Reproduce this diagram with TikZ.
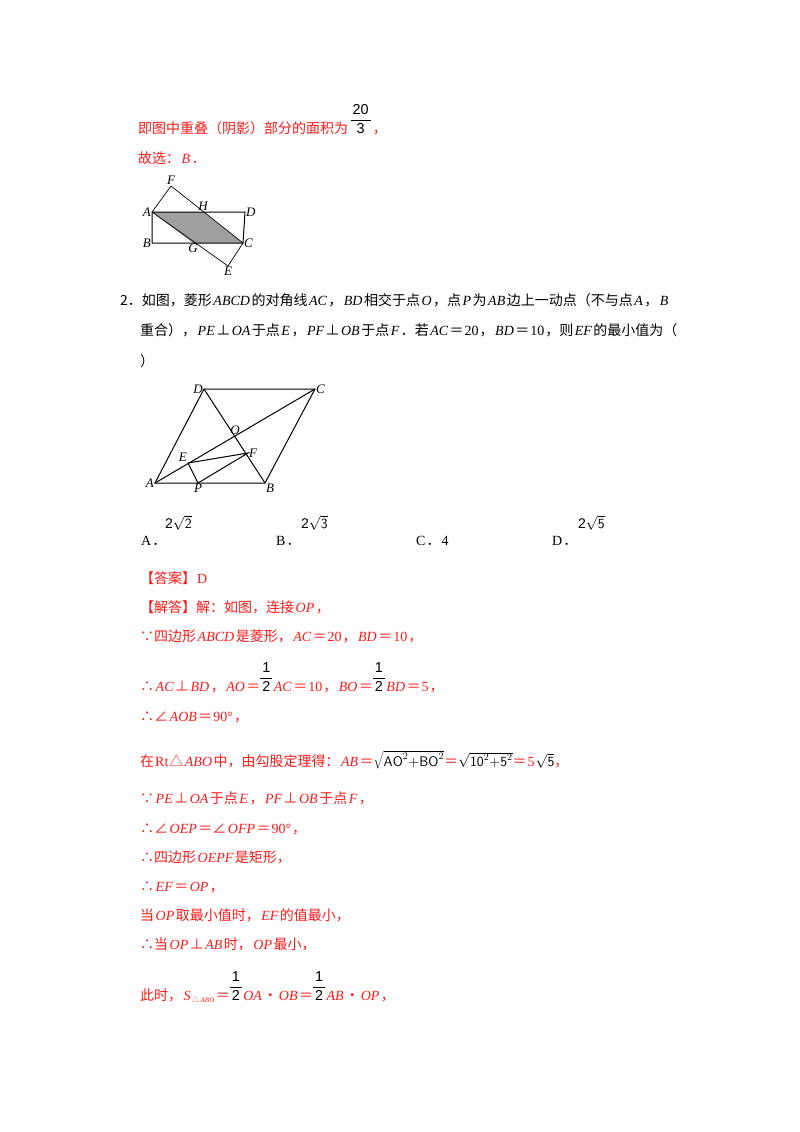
\documentclass[tikz,border=0pt]{standalone}
\usepackage{fontspec}
\setmainfont{Noto Sans CJK SC}
\newfontfamily\latf{Liberation Serif}
\newfontfamily\sansf{Liberation Sans}
\newcommand\I[1]{\hspace{1.5pt}{\latf\itshape #1}\hspace{1.5pt}}
\newcommand\R[1]{\hspace{1pt}{\latf #1}\hspace{1pt}}
\newcommand\fr[2]{{\color{black}\renewcommand\arraystretch{1.1}\setlength\arrayrulewidth{0.7pt}\begin{tabular}[b]{@{\hspace{2pt}}c@{\hspace{2pt}}}\sansf\Large #1\\\hline\sansf\Large #2\end{tabular}}}
\begin{document}
\begin{tikzpicture}[x=1pt,y=-1pt,
  ln/.style={anchor=base west,inner sep=0pt,font=\fontsize{14}{16}\selectfont},
  rd/.style={ln,text=red!90!white},
  bk/.style={ln,text=black},
  lab/.style={inner sep=1pt,font=\fontsize{13}{15}\selectfont\latf\itshape},
  fig/.style={line width=1pt}]
\useasboundingbox (0,0) rectangle (800,1132);
% top text
\node[rd] (l1) at (138,133) {即图中重叠（阴影）部分的面积为\,\fr{20}{3}\,，};
\node[rd] (l2) at (138,163) {故选：\I{B}．};
% figure 1
\coordinate (A1) at (152,212); \coordinate (D1) at (245,212);
\coordinate (B1) at (152,243); \coordinate (C1) at (243,243);
\coordinate (F1) at (171,186); \coordinate (H1) at (203,212);
\coordinate (G1) at (193,243); \coordinate (E1) at (228,266);
\fill[gray!75] (A1) -- (H1) -- (C1) -- (G1) -- cycle;
\draw[fig] (A1) -- (D1) -- (C1) -- (B1) -- cycle;
\draw[fig,line width=0.7pt] (A1) -- (F1) -- (C1) -- (E1) -- (A1);
\node[lab,anchor=east] at (A1) {A};
\node[lab,anchor=west] at (D1) {D};
\node[lab,anchor=east] at (B1) {B};
\node[lab,anchor=west] at (C1) {C};
\node[lab,anchor=south] at (F1) {F};
\node[lab,anchor=south] at (H1) {H};
\node[lab,anchor=north] at (G1) {G};
\node[lab,anchor=north] at (E1) {E};
% question
\node[bk] (q1) at (120,305) {2．如图，菱形\I{ABCD}的对角线\I{AC}，\I{BD}相交于点\I{O}，点\I{P}为\I{AB}边上一动点（不与点\I{A}，\I{B}};
\node[bk] (q2) at (140,335) {重合），\I{PE}⊥\I{OA}于点\I{E}，\I{PF}⊥\I{OB}于点\I{F}．若\I{AC}＝\R{20}，\I{BD}＝\R{10}，则\I{EF}的最小值为（};
\node[bk] (q3) at (140,366) {）};
% figure 2
\coordinate (A2) at (155,483); \coordinate (B2) at (265,483);
\coordinate (C2) at (315,389); \coordinate (D2) at (204,389);
\coordinate (O2) at (235,436); \coordinate (E2) at (188,463);
\coordinate (F2) at (248,453); \coordinate (P2) at (198,483);
\draw[fig] (A2) -- (B2) -- (C2) -- (D2) -- cycle;
\draw[fig] (A2) -- (C2) (D2) -- (B2);
\draw[fig] (E2) -- (P2) -- (F2) -- (E2);
\node[lab,anchor=east] at (A2) {A};
\node[lab,anchor=north west] at (B2) {B};
\node[lab,anchor=west] at (C2) {C};
\node[lab,anchor=east] at (D2) {D};
\node[lab,anchor=south] at (O2) {O};
\node[lab,anchor=south east] at (E2) {E};
\node[lab,anchor=west] at (F2) {F};
\node[lab,anchor=north] at (P2) {P};
% options
\node[bk] (oa) at (140,545) {\R{A}．};
\node[bk,font=\fontsize{14}{16}\selectfont\sansf] (oa2) at (165,528) {2$\sqrt{\mathsf{2}}$};
\node[bk] (ob) at (275,545) {\R{B}．};
\node[bk,font=\fontsize{14}{16}\selectfont\sansf] (ob2) at (301,528) {2$\sqrt{\mathsf{3}}$};
\node[bk] (oc) at (415,545) {\R{C}．\R{4}};
\node[bk] (od) at (551,545) {\R{D}．};
\node[bk,font=\fontsize{14}{16}\selectfont\sansf] (od2) at (578,528) {2$\sqrt{\mathsf{5}}$};
% answer
\node[rd] (a1) at (140,583) {【答案】\R{D}};
\node[rd] (a2) at (140,612) {【解答】解：如图，连接\I{OP}，};
\node[rd] (a3) at (140,641) {∵四边形\I{ABCD}是菱形，\I{AC}＝\R{20}，\I{BD}＝\R{10}，};
\node[rd] (a4) at (140,691) {∴\I{AC}⊥\I{BD}，\I{AO}＝\fr{1}{2}\I{AC}＝\R{10}，\I{BO}＝\fr{1}{2}\I{BD}＝\R{5}，};
\node[rd] (a5) at (140,721) {∴∠\I{AOB}＝\R{90°}，};
\node[rd] (a6) at (140,766) {在\R{Rt}△\I{ABO}中，由勾股定理得：\I{AB}＝{\color{black}$\sqrt{\mathsf{AO}^2\mathsf{+BO}^2}$}＝{\color{black}$\sqrt{\mathsf{10}^2\mathsf{+5}^2}$}＝\R{5}{\color{black}$\sqrt{\mathsf{5}}$}，};
\node[rd] (a7) at (140,803) {∵\I{PE}⊥\I{OA}于点\I{E}，\I{PF}⊥\I{OB}于点\I{F}，};
\node[rd] (a8) at (140,833) {∴∠\I{OEP}＝∠\I{OFP}＝\R{90°}，};
\node[rd] (a9) at (140,862) {∴四边形\I{OEPF}是矩形，};
\node[rd] (a10) at (140,891) {∴\I{EF}＝\I{OP}，};
\node[rd] (a11) at (140,920) {当\I{OP}取最小值时，\I{EF}的值最小，};
\node[rd] (a12) at (140,949) {∴当\I{OP}⊥\I{AB}时，\I{OP}最小，};
\node[rd] (a13) at (140,1000) {此时，\I{S}\raisebox{-2pt}{\scriptsize △\I{ABO}}＝\fr{1}{2}\I{OA}•\I{OB}＝\fr{1}{2}\I{AB}•\I{OP}，};
\end{tikzpicture}
\end{document}
